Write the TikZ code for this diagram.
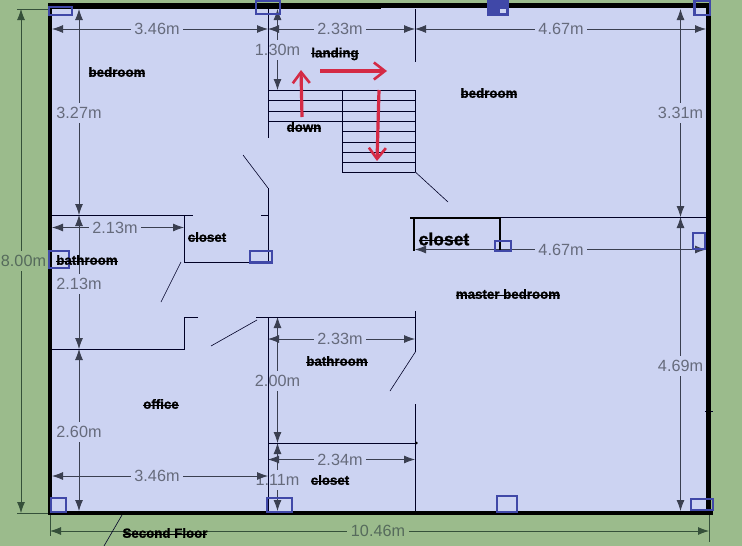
\documentclass[tikz,border=0pt]{standalone}
\usepackage{fontspec}
\setmainfont{Liberation Sans}
\newfontfamily\tagfont[BoldFeatures={FakeBold=1.2}]{Liberation Sans}
\usetikzlibrary{arrows.meta}
\definecolor{ground}{HTML}{9BBB8C}
\definecolor{room}{HTML}{CCD3F2}
\definecolor{dimcol}{HTML}{3A3F50}
\definecolor{dimtxt}{HTML}{666B7C}
\definecolor{outcol}{HTML}{35503A}
\definecolor{outtxt}{HTML}{566B5C}
\definecolor{marker}{HTML}{4048A8}
\definecolor{redarrow}{HTML}{D42A45}
\newcommand\strk[1]{\setbox0=\hbox{#1}\rlap{\rule[0.26em]{\wd0}{0.6pt}}\box0}
\newcommand\dimn[6][]{%
  \coordinate (#2a) at (#3);\coordinate (#2b) at (#4);
  \draw[dimline,#1] (#2a) -- (#2b);
  \node[dimlabel,#1] (#2) at (#5) {#6};}
\newcommand\tag[3]{\node[tagtext] (#1) at (#2) {\strk{#3}};}
\tikzset{
  x=1pt,y=-1pt,
  dimline/.style={draw=dimcol,line width=0.8pt,{Latex[length=11pt,width=8pt]}-{Latex[length=11pt,width=8pt]}},
  dimlabel/.style={fill=room,text=dimtxt,font=\fontsize{16.2}{18}\selectfont,inner xsep=3.5pt,inner ysep=4pt},
  outer/.style={draw=outcol,text=outtxt,fill=ground},
  wall/.style={draw=black!85!blue,line width=0.95pt},
  door/.style={draw=black!85!blue,line width=0.6pt},
  heavy/.style={draw=black,line width=2.4pt},
  witness/.style={draw=outcol,line width=0.8pt},
  bluebox/.style={draw=marker,line width=2.8pt},
  tagtext/.style={font=\fontsize{13.3}{15}\tagfont\bfseries,text=black,inner sep=0pt},
  redline/.style={draw=redarrow,line width=3.2pt,-{Straight Barb[length=11pt,width=17pt,line width=2.6pt]}},
}
\begin{document}
\begin{tikzpicture}
\useasboundingbox (0,0) rectangle (742,546);
\clip (0,0) rectangle (742,546);
\fill[ground] (0,0) rectangle (742,546);
\fill[room] (48,3) rectangle (711,515);
% exterior dimensions
\coordinate (wa1) at (17,9);\coordinate (wa2) at (50,9);
\coordinate (wb1) at (17,513);\coordinate (wb2) at (50,513);
\coordinate (wc1) at (50,515);\coordinate (wc2) at (50,536);
\coordinate (wd1) at (709.5,515);\coordinate (wd2) at (709.5,542);
\draw[witness] (wa1)--(wa2) (wb1)--(wb2) (wc1)--(wc2) (wd1)--(wd2);
\coordinate (dtotala) at (21,9);\coordinate (dtotalb) at (21,513);
\draw[dimline,draw=outcol] (dtotala) -- (dtotalb);
\node[dimlabel,fill=ground,text=outtxt] (dtotal) at (23.5,261) {8.00m};
\coordinate (dwidtha) at (50,531);\coordinate (dwidthb) at (709,531);
\draw[dimline,draw=outcol] (dwidtha) -- (dwidthb);
\node[dimlabel,fill=ground,text=outtxt] (dwidth) at (378,531) {10.46m};
% interior dimensions
\dimn{da}{52,29}{268,29}{157,29}{3.46m}
\dimn{db}{268,29}{415,29}{340,29}{2.33m}
\dimn{dc}{415,29}{706,29}{561,29}{4.67m}
\dimn{dd}{79,9}{79,215}{79,113}{3.27m}
\dimn{de}{79,215}{79,349}{79,284}{2.13m}
\dimn{df}{79,349}{79,511}{79,432}{2.60m}
\dimn{dg}{277.5,9}{277.5,90}{277.5,50}{1.30m}
\dimn{dh}{277.5,317}{277.5,443}{277.5,381}{2.00m}
\dimn{di}{277.5,443}{277.5,511}{277.5,480}{1.11m}
\dimn{dj}{52,227.5}{184,227.5}{115,227.5}{2.13m}
\dimn{dk}{268,339}{415,339}{340,339}{2.33m}
\dimn{dl}{268,459.5}{415,459.5}{340,459.5}{2.34m}
\dimn{dm}{52,476}{268,476}{157,476}{3.46m}
\dimn{dn}{680.5,9}{680.5,217}{680.5,113}{3.31m}
\dimn{do}{680.5,217}{680.5,511}{680.5,366}{4.69m}
\dimn{dp}{415,249.5}{706,249.5}{561,249.5}{4.67m}
% stairs
\draw[wall] (268,90) -- (415,90);
\draw[wall] (268,100) -- (342,100) (268,111) -- (342,111) (268,121) -- (342,121);
\draw[wall] (342,90) -- (342,172) -- (415,172);
\draw[wall] (342,100) -- (415,100) (342,111) -- (415,111) (342,121) -- (415,121)
  (342,131) -- (415,131) (342,142) -- (415,142) (342,152) -- (415,152) (342,162) -- (415,162);
% thin walls
\draw[wall] (268.5,9) -- (268.5,138);
\draw[wall] (268.5,188) -- (268.5,262) -- (184.5,262) -- (184.5,215);
\draw[wall] (52,215) -- (193,215);
\draw[wall] (261,215) -- (268.5,215);
\draw[wall] (415.3,9) -- (415.3,62) (415.3,90) -- (415.3,172);
\draw[wall] (499,217) -- (706,217);
\draw[wall] (415.3,311) -- (415.3,352) (415.3,404) -- (415.3,511);
\draw[wall] (256,317) -- (415.3,317);
\draw[wall] (198,317) -- (184.5,317) -- (184.5,349) -- (52,349);
\draw[wall] (268.5,317) -- (268.5,511);
\draw[wall] (268.5,443) -- (416,443);
\fill[black] (416.5,443) circle (1.3);
\draw[wall] (705,411) -- (713,411);
% door swings
\draw[door] (268,188) -- (243,155);
\draw[door] (181,262) -- (161,302);
\draw[door] (257,320) -- (211,346);
\draw[door] (415.3,172) -- (448,202);
\draw[door] (415.3,352) -- (390,391);
\draw[door] (122,515) -- (104,546);
% closet
\draw[heavy] (410,218) -- (500,218);
\draw[heavy] (414,218) -- (414,251);
\draw[heavy] (500,217) -- (500,250);
% outer walls
\fill[black] (48,3) rectangle (381,9);
\fill[black] (381,2.5) rectangle (711,7.5);
\fill[black] (47.5,3) rectangle (52,515);
\fill[black] (706,3) rectangle (711,515);
\fill[black] (47.5,510.5) rectangle (713,515);
% markers
\draw[bluebox] (49,7) rectangle (72,15);
\draw[bluebox] (256,1) rectangle (280,14);
\fill[marker] (488,2) rectangle (508,15);
\fill[room] (500,9) rectangle (506,13);
\draw[bluebox] (488,1) rectangle (508,15);
\draw[bluebox] (694.5,1) rectangle (710,15);
\draw[bluebox] (49,251) rectangle (69,268);
\draw[bluebox] (250,251) rectangle (272,262.5);
\draw[bluebox] (495,241) rectangle (511,251);
\draw[bluebox] (693,233) rectangle (705,249);
\draw[bluebox] (51,498) rectangle (66,512);
\draw[bluebox] (267,498) rectangle (292,512);
\draw[bluebox] (497,496) rectangle (517,512);
\draw[bluebox] (691,499) rectangle (713,510);
% red arrows
\coordinate (ra1) at (302,117);\coordinate (ra2) at (301,70);
\coordinate (rb1) at (320,71);\coordinate (rb2) at (387,71);
\coordinate (rc1) at (379,90);\coordinate (rc2) at (377,161);
\draw[redline] (ra1) -- (ra2);
\draw[redline] (rb1) -- (rb2);
\draw[redline] (rc1) -- (rc2);
% labels
\tag{t1}{117,72}{bedroom}
\tag{t2}{335,54}{landing}
\tag{t3}{304,127}{down}
\tag{t4}{207,237}{closet}
\tag{t5}{87,260}{bathroom}
\tag{t6}{489,93}{bedroom}
\node[tagtext,font=\fontsize{17.5}{19}\tagfont\bfseries] (t7) at (444,239) {\strk{closet}};
\tag{t8}{508,294}{master bedroom}
\tag{t9}{337,361}{bathroom}
\tag{t10}{161,404}{office}
\tag{t11}{330,480}{closet}
\tag{t12}{165,533}{Second Floor}
\end{tikzpicture}
\end{document}
